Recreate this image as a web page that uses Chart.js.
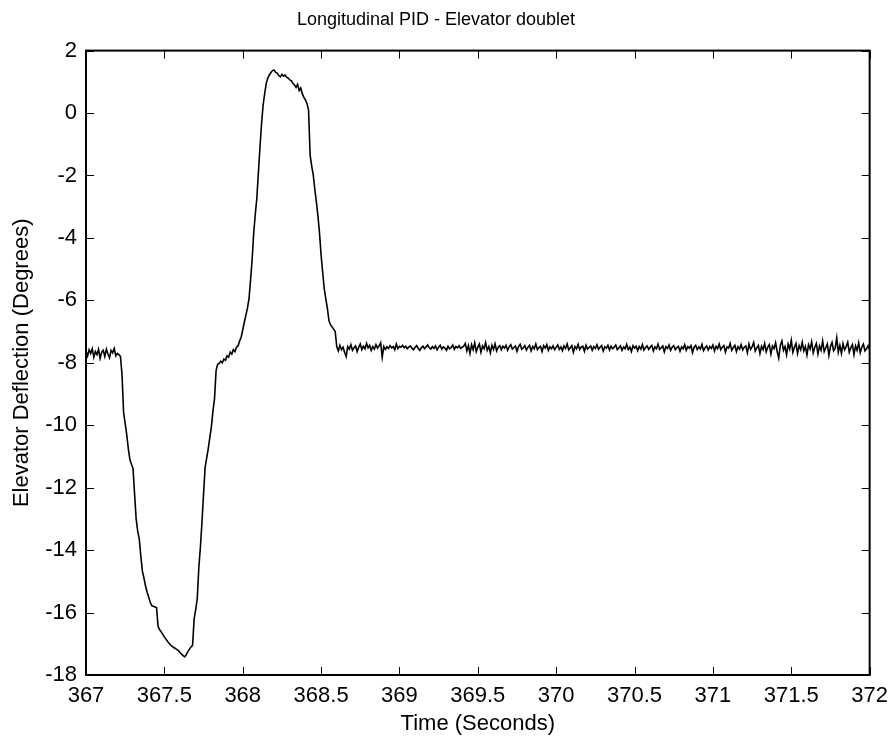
<!DOCTYPE html>
<html>
<head>
<meta charset="utf-8">
<title>Longitudinal PID - Elevator doublet</title>
<script src="https://cdn.jsdelivr.net/npm/chart.js@4/dist/chart.umd.min.js"></script>
<style>
  html, body { margin: 0; padding: 0; background: #fff; }
  canvas { display: block; }
</style>
</head>
<body>
<canvas id="chart" width="896" height="743"></canvas>
<script>
// Elevator deflection log, sampled at 100 Hz (degrees)
const SAMPLE_DT = 0.01;

// Trim before the doublet input, from t = 367.00 s
const trimStart = 367.00;
const trimDeflection = [
  -7.62, -7.78, -7.58, -7.70, -7.55, -7.82, -7.64, -7.74, -7.57, -7.86, -7.66,
  -7.60, -7.80, -7.56, -7.72, -7.84, -7.60, -7.68, -7.54, -7.78, -7.70, -7.74
];

// Doublet manoeuvre, from t = 367.22 s
const doubletStart = 367.22;
const doubletDeflection = [
  -7.80, -8.40, -9.60, -9.95, -10.30, -10.75, -11.10, -11.25,
  -11.38, -12.20, -13.00, -13.40, -13.65, -14.20, -14.68, -14.90, -15.15, -15.35,
  -15.50, -15.68, -15.78, -15.80, -15.82, -15.84, -16.45, -16.55, -16.62, -16.70,
  -16.78, -16.85, -16.92, -16.98, -17.04, -17.08, -17.12, -17.15, -17.19, -17.22,
  -17.28, -17.33, -17.38, -17.42, -17.35, -17.25, -17.17, -17.10, -17.05, -16.20,
  -15.90, -15.55, -14.55, -13.90, -13.10, -12.20, -11.35, -11.05, -10.75, -10.40,
  -10.05, -9.55, -9.15, -8.25, -8.05, -8.02, -7.95, -8.00, -7.88, -7.92,
  -7.78, -7.82, -7.66, -7.72, -7.58, -7.64, -7.50, -7.46, -7.30, -7.18,
  -6.95, -6.70, -6.48, -6.25, -5.95, -5.35, -4.70, -3.85, -3.25, -2.73,
  -1.90, -1.10, -0.35, 0.25, 0.62, 0.95, 1.12, 1.22, 1.30, 1.36,
  1.38, 1.30, 1.28, 1.20, 1.16, 1.24, 1.18, 1.22, 1.15, 1.12,
  1.06, 1.04, 0.95, 0.90, 0.82, 0.92, 0.72, 0.80, 0.62, 0.50,
  0.42, 0.30, 0.10, -1.35, -1.70, -1.98, -2.45, -2.85, -3.30, -3.85,
  -4.55, -5.10, -5.62, -5.95, -6.25, -6.65, -6.78, -6.85, -6.92, -7.00, -7.48
];

// Settled trim after the manoeuvre, from t = 368.61 s
const settledStart = 368.61;
const settledDeflection = [
  -7.62, -7.44, -7.58, -7.50, -7.66, -7.80, -7.48, -7.56, -7.42, -7.60, -7.52, -7.46, -7.64, -7.50, -7.40, -7.58, -7.47, -7.55, -7.38, -7.52,
  -7.44, -7.60, -7.48, -7.56, -7.42, -7.53, -7.46, -7.36, -7.82, -7.48, -7.57, -7.49, -7.54, -7.45, -7.52, -7.48, -7.58, -7.40, -7.55, -7.47,
  -7.50, -7.44, -7.52, -7.47, -7.55, -7.49, -7.46, -7.53, -7.58, -7.50, -7.45, -7.54, -7.60, -7.51, -7.47, -7.55, -7.49, -7.43, -7.52, -7.56,
  -7.48, -7.54, -7.46, -7.58, -7.50, -7.44, -7.56, -7.49, -7.53, -7.60, -7.47, -7.55, -7.51, -7.43, -7.57, -7.48, -7.52, -7.45, -7.54, -7.50,
  -7.47, -7.38, -7.62, -7.45, -7.70, -7.42, -7.58, -7.36, -7.64, -7.50, -7.40, -7.66, -7.46, -7.55, -7.35, -7.60, -7.48, -7.68, -7.44, -7.57,
  -7.39, -7.62, -7.50, -7.45, -7.58, -7.47, -7.53, -7.44, -7.60, -7.49, -7.42, -7.56, -7.51, -7.46, -7.63, -7.48, -7.41, -7.57, -7.52, -7.45,
  -7.59, -7.50, -7.44, -7.62, -7.48, -7.55, -7.40, -7.58, -7.51, -7.47, -7.64, -7.45, -7.53, -7.42, -7.60, -7.49, -7.55, -7.46, -7.58, -7.50,
  -7.43, -7.57, -7.49, -7.61, -7.46, -7.54, -7.40, -7.59, -7.52, -7.45, -7.66, -7.48, -7.55, -7.41, -7.58, -7.50, -7.47, -7.63, -7.44, -7.56,
  -7.51, -7.46, -7.60, -7.48, -7.54, -7.42, -7.57, -7.50, -7.45, -7.62, -7.49, -7.53, -7.44, -7.59, -7.47, -7.55, -7.50, -7.43, -7.58, -7.52,
  -7.46, -7.60, -7.49, -7.55, -7.41, -7.58, -7.50, -7.64, -7.45, -7.53, -7.47, -7.61, -7.48, -7.56, -7.42, -7.59, -7.51, -7.46, -7.57, -7.50,
  -7.44, -7.62, -7.49, -7.55, -7.40, -7.57, -7.52, -7.46, -7.65, -7.48, -7.54, -7.43, -7.60, -7.50, -7.45, -7.58, -7.51, -7.47, -7.63, -7.49,
  -7.55, -7.42, -7.60, -7.48, -7.53, -7.45, -7.67, -7.50, -7.44, -7.58, -7.49, -7.56, -7.41, -7.61, -7.52, -7.46, -7.59, -7.48, -7.54, -7.43,
  -7.62, -7.47, -7.55, -7.40, -7.58, -7.50, -7.45, -7.66, -7.49, -7.53, -7.38, -7.60, -7.51, -7.44, -7.64, -7.48, -7.56, -7.42, -7.59, -7.50,
  -7.46, -7.68, -7.40, -7.57, -7.49, -7.35, -7.62, -7.52, -7.44, -7.70, -7.47, -7.58, -7.38, -7.65, -7.50, -7.42, -7.72, -7.46, -7.55, -7.36,
  -7.64, -7.85, -7.44, -7.30, -7.60, -7.48, -7.74, -7.40, -7.56, -7.28, -7.66, -7.50, -7.38, -7.70, -7.45, -7.58, -7.34, -7.62, -7.48, -7.75,
  -7.42, -7.56, -7.32, -7.68, -7.50, -7.38, -7.72, -7.46, -7.60, -7.30, -7.64, -7.52, -7.40, -7.76, -7.48, -7.35, -7.62, -7.54, -7.20, -7.66,
  -7.44, -7.70, -7.38, -7.58, -7.48, -7.34, -7.66, -7.52, -7.42, -7.74, -7.46, -7.60, -7.36, -7.68, -7.50, -7.40, -7.62, -7.55, -7.45, -7.58
];

// Axis ticks and text
const xTicks = [367, 367.5, 368, 368.5, 369, 369.5, 370, 370.5, 371, 371.5, 372];
const yTicks = [2, 0, -2, -4, -6, -8, -10, -12, -14, -16, -18];
const chartTitle = 'Longitudinal PID - Elevator doublet';
const xTitle = 'Time (Seconds)';
const yTitle = 'Elevator Deflection (Degrees)';

// Build (time, value) points from each sampled segment
function toPoints(start, values) {
  return values.map((v, i) => ({ x: +(start + i * SAMPLE_DT).toFixed(3), y: v }));
}
const points = [
  ...toPoints(trimStart, trimDeflection),
  ...toPoints(doubletStart, doubletDeflection),
  ...toPoints(settledStart, settledDeflection)
];

const FONT = '"Liberation Sans", Arial, Helvetica, sans-serif';
Chart.defaults.color = '#000';
Chart.defaults.font.family = FONT;

// Plot frame with inward tick marks on all four sides
const framePlugin = {
  id: 'frame',
  afterDraw(chart) {
    const { ctx, chartArea: a, scales } = chart;
    const len = 8;
    ctx.save();
    ctx.strokeStyle = '#000';
    ctx.lineWidth = 1;
    ctx.beginPath();
    xTicks.forEach(v => {
      const px = Math.round(scales.x.getPixelForValue(v)) + 0.5;
      ctx.moveTo(px, a.bottom); ctx.lineTo(px, a.bottom - len);
      ctx.moveTo(px, a.top); ctx.lineTo(px, a.top + len);
    });
    yTicks.forEach(v => {
      const py = Math.round(scales.y.getPixelForValue(v)) + 0.5;
      ctx.moveTo(a.left, py); ctx.lineTo(a.left + len, py);
      ctx.moveTo(a.right, py); ctx.lineTo(a.right - len, py);
    });
    ctx.stroke();
    ctx.lineWidth = 2;
    ctx.strokeRect(a.left, a.top, a.right - a.left, a.bottom - a.top);
    ctx.restore();
  }
};

new Chart(document.getElementById('chart'), {
  type: 'line',
  data: {
    datasets: [{
      data: points,
      borderColor: '#000',
      borderWidth: 1.6,
      pointRadius: 0,
      tension: 0,
      fill: false
    }]
  },
  options: {
    responsive: false,
    animation: false,
    layout: { padding: { left: 0, right: 24, top: 0, bottom: 0 } },
    plugins: {
      legend: { display: false },
      tooltip: { enabled: false },
      title: {
        display: true,
        text: chartTitle,
        font: { family: FONT, size: 18, weight: 'normal' },
        padding: { top: 9, bottom: 20 }
      }
    },
    scales: {
      x: {
        type: 'linear',
        min: 367, max: 372,
        afterBuildTicks: s => { s.ticks = xTicks.map(v => ({ value: v })); },
        afterFit: s => { s.height = 68; },
        ticks: { font: { family: FONT, size: 22 }, padding: 8, maxRotation: 0, autoSkip: false,
                 callback: v => String(v) },
        grid: { display: false, drawTicks: false },
        border: { display: false },
        title: { display: true, text: xTitle, font: { family: FONT, size: 22 }, padding: { top: 0, bottom: 6 } }
      },
      y: {
        type: 'linear',
        min: -18, max: 2,
        afterBuildTicks: s => { s.ticks = yTicks.map(v => ({ value: v })); },
        afterFit: s => { s.width = 86; },
        ticks: { font: { family: FONT, size: 22 }, padding: 9, autoSkip: false,
                 callback: v => String(v) },
        grid: { display: false, drawTicks: false },
        border: { display: false },
        title: { display: true, text: yTitle, font: { family: FONT, size: 22 }, padding: { top: 9, bottom: 0 } }
      }
    }
  },
  plugins: [framePlugin]
});
</script>
</body>
</html>
